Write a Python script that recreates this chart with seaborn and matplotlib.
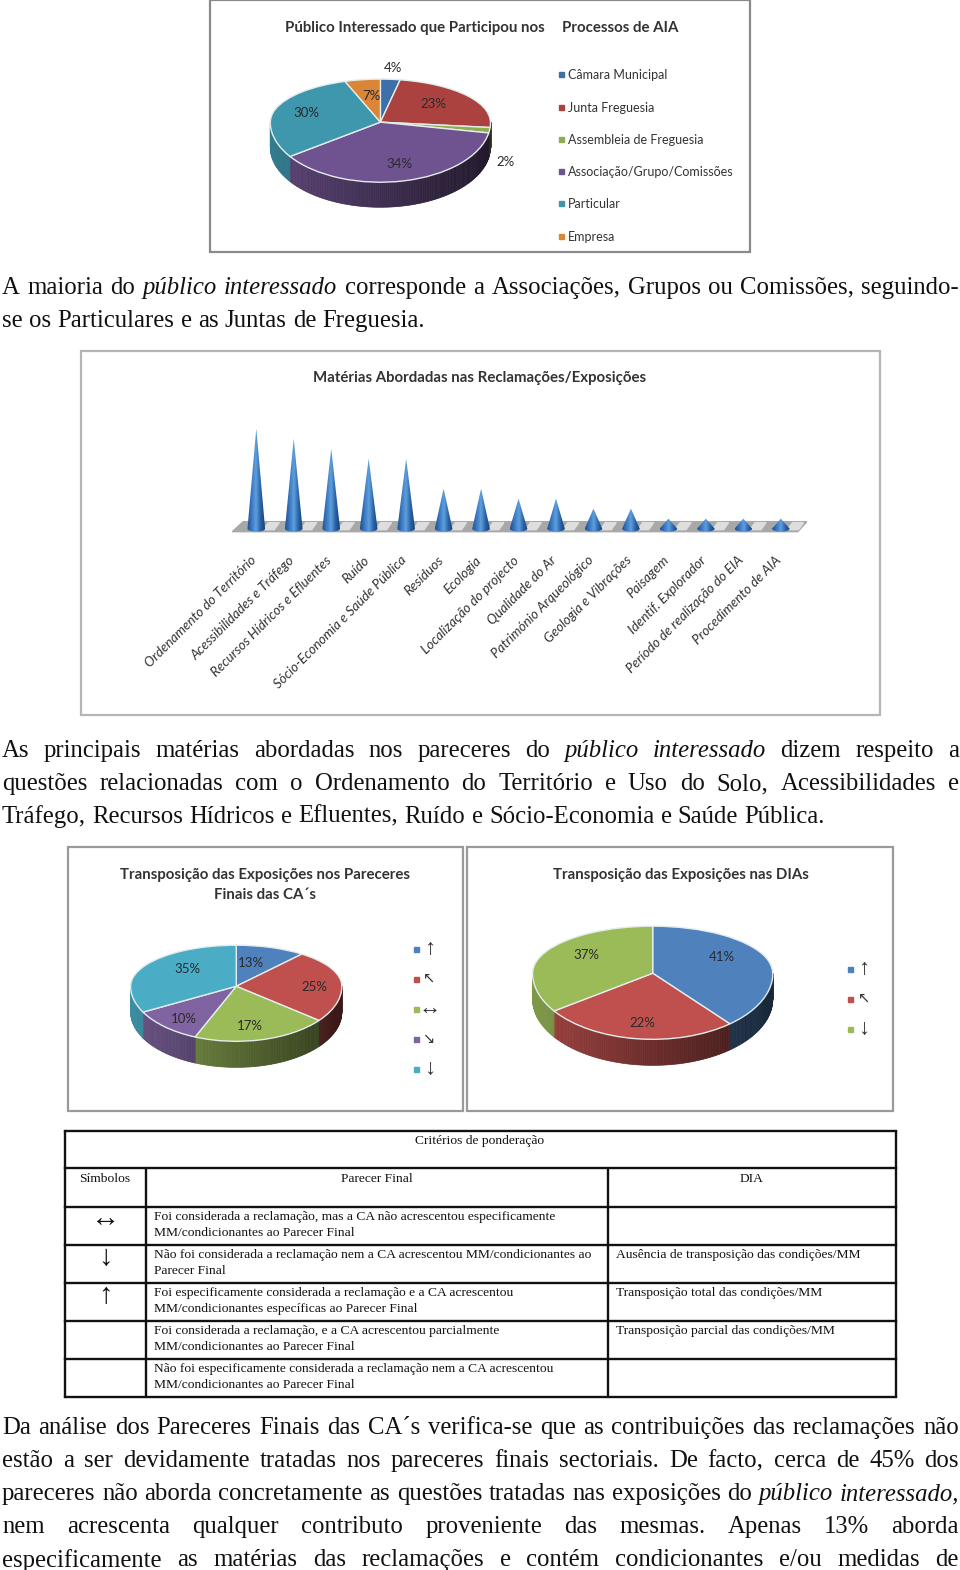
import numpy as np
import pandas as pd
import seaborn as sns
import matplotlib.pyplot as plt
from matplotlib.colors import LinearSegmentedColormap, to_rgb
from matplotlib.patches import Polygon, Rectangle
from matplotlib.transforms import ScaledTranslation

# Dados dos graficos
publico_nomes = ['Câmara Municipal', 'Junta Freguesia', 'Assembleia de Freguesia',
                 'Associação/Grupo/Comissões', 'Particular', 'Empresa']
publico_valores = [4, 23, 2, 34, 30, 7]
publico_cores = ['#3F6FA8', '#AC4240', '#8FAD50', '#6F5290', '#3F97AE', '#DB8536']

materias = ['Ordenamento do Território', 'Acessibilidades e Tráfego', 'Recursos Hídricos e Efluentes',
            'Ruído', 'Sócio-Economia e Saúde Pública', 'Resíduos', 'Ecologia',
            'Localização do projecto', 'Qualidade do Ar', 'Património Arqueológico',
            'Geologia e Vibrações', 'Paisagem', 'Identif. Explorador',
            'Período de realização do EIA', 'Procedimento de AIA']
materias_valores = [10, 9, 8, 7, 7, 4, 4, 3, 3, 2, 2, 1, 1, 1, 1]

pareceres_simbolos = ['↑', '↖', '↔', '↘', '↓']
pareceres_valores = [13, 25, 17, 10, 35]
pareceres_cores = ['#4F81BD', '#C0504D', '#9BBB59', '#8064A2', '#4BACC6']

dias_simbolos = ['↑', '↖', '↓']
dias_valores = [41, 22, 37]
dias_cores = ['#4F81BD', '#C0504D', '#9BBB59']

# Texto da pagina (* marca palavra em italico)
paragrafo_1 = [('A maioria do *público *interessado corresponde a Associações, Grupos ou Comissões, seguindo-', 285, True),
               ('se os Particulares e as Juntas de Freguesia.', 318, False)]
paragrafo_2 = [('As principais matérias abordadas nos pareceres do *público *interessado dizem respeito a', 748, True),
               ('questões relacionadas com o Ordenamento do Território e Uso do Solo, Acessibilidades e', 781, True),
               ('Tráfego, Recursos Hídricos e Efluentes, Ruído e Sócio-Economia e Saúde Pública.', 813, False)]
paragrafo_3 = [('Da análise dos Pareceres Finais das CA´s verifica-se que as contribuições das reclamações não', 1424, True),
               ('estão a ser devidamente tratadas nos pareceres finais sectoriais. De facto, cerca de 45% dos', 1457, True),
               ('pareceres não aborda concretamente as questões tratadas nas exposições do *público *interessado,', 1490, True),
               ('nem acrescenta qualquer contributo proveniente das mesmas. Apenas 13% aborda', 1523, True),
               ('especificamente as matérias das reclamações e contém condicionantes e/ou medidas de', 1556, True)]

tabela_simbolos = ['↔', '↓', '↑', '', '']
tabela_parecer = [('Foi considerada a reclamação, mas a CA não acrescentou especificamente', 'MM/condicionantes ao Parecer Final'),
                  ('Não foi considerada a reclamação nem a CA acrescentou MM/condicionantes ao', 'Parecer Final'),
                  ('Foi especificamente considerada a reclamação e a CA acrescentou', 'MM/condicionantes específicas ao Parecer Final'),
                  ('Foi considerada a reclamação, e a CA acrescentou parcialmente', 'MM/condicionantes ao Parecer Final'),
                  ('Não foi especificamente considerada a reclamação nem a CA acrescentou', 'MM/condicionantes ao Parecer Final')]
tabela_dia = ['', 'Ausência de transposição das condições/MM', 'Transposição total das condições/MM',
              'Transposição parcial das condições/MM', '']

sns.set_theme(style='white')
plt.rcParams['font.family'] = ['Lato', 'DejaVu Sans']

L, A = 959, 1568
COR_TEXTO = '#333333'
SERIFA = ['Liberation Serif', 'DejaVu Sans']
TAM = 17.8
fig = plt.figure(figsize=(9.6, 15.7), dpi=100, facecolor='white')

# Eixo da pagina, em pixeis
pagina = fig.add_axes([0, 0, 1, 1], zorder=0)
pagina.set_xlim(0, L)
pagina.set_ylim(A, 0)
pagina.axis('off')
# Eixo por cima das pizzas, para as percentagens
sobre = fig.add_axes([0, 0, 1, 1], zorder=5)
sobre.set_xlim(0, L)
sobre.set_ylim(A, 0)
sobre.axis('off')
renderer = fig.canvas.get_renderer()


def largura(palavra, **kw):
    t = pagina.text(0, 0, palavra, **kw)
    w = t.get_window_extent(renderer).width
    t.remove()
    return w


def linha_texto(linha, y, justificar, x0=2, x1=958):
    palavras = linha.split(' ')
    estilos = []
    for p in palavras:
        estilos.append(dict(family='Liberation Serif', fontsize=TAM,
                            style='italic' if p.startswith('*') else 'normal'))
    palavras = [p.lstrip('*') for p in palavras]
    larguras = [largura(p, **e) for p, e in zip(palavras, estilos)]
    if justificar:
        espaco = (x1 - x0 - sum(larguras)) / (len(palavras) - 1)
    else:
        espaco = largura('a a', family='Liberation Serif', fontsize=TAM) - 2 * largura('a', family='Liberation Serif', fontsize=TAM)
    x = x0
    for p, e, w in zip(palavras, estilos, larguras):
        pagina.text(x, y, p, va='center_baseline', ha='left', color='#111111', **e)
        x += w + espaco


for linha, y, just in paragrafo_1 + paragrafo_2 + paragrafo_3:
    linha_texto(linha, y, just)


def moldura(x0, y0, x1, y1, cor='#9a9a9a', lw=1.6):
    pagina.add_patch(Rectangle((x0, y0), x1 - x0, y1 - y0, fill=False, edgecolor=cor, linewidth=lw))


moldura(210, 0, 749, 252, '#8a8a8a')
moldura(81, 351, 879, 714, '#b5b5b5')
moldura(68, 846, 463, 1110, '#9a9a9a')
moldura(467, 846, 892, 1110, '#9a9a9a')


def escurecer(cor, f):
    return tuple(c * f for c in to_rgb(cor))


def perspectiva(b):
    # desvio do angulo causado pela vista 3D do Excel
    rad = np.radians(b)
    return b - 8.4 * np.abs(np.sin(2 * rad)) * np.sign(np.sin(rad))


def pizza(valores, cores, cx, apice, topo, fundo, rx, prof):
    rs, ri = apice - topo, fundo - apice
    ax = fig.add_axes([(cx - rx) / L, 1 - (fundo + prof) / A, 2 * rx / L, (rs + ri + prof) / A], zorder=2)
    ax.patch.set_alpha(0)
    cunhas, _ = ax.pie(valores, colors=cores, startangle=90, counterclock=False,
                       wedgeprops=dict(edgecolor='#e4ecec', linewidth=1.0))
    acum = perspectiva(np.cumsum([0] + list(valores)) / sum(valores) * 360)
    for i, c in enumerate(cunhas):
        c.set_theta1(90 - acum[i + 1])
        c.set_theta2(90 - acum[i])
        c.set_zorder(3)
        c.set_clip_on(False)
    # parede lateral do disco
    for i, cor in enumerate(cores):
        angulos = np.arange(acum[i], acum[i + 1], 1.0)
        angulos = np.append(angulos, acum[i + 1])
        for a0, a1 in zip(angulos[:-1], angulos[1:]):
            if np.cos(np.radians(a0)) > 0.02 and np.cos(np.radians(a1)) > 0.02:
                continue
            xa, xb = np.sin(np.radians(a0)), np.sin(np.radians(a1))
            ya, yb = np.cos(np.radians(a0)), np.cos(np.radians(a1))
            ya, yb = min(ya, 0), min(yb, 0)
            d = prof / ri
            f = 0.82 - 0.52 * (xa + 1) / 2
            ax.fill([xa, xb, xb, xa], [ya, yb, yb - d, ya - d], color=escurecer(cor, f),
                    linewidth=0.5, zorder=1, clip_on=False)
    ax.set_aspect('auto')
    # o apice fica acima do centro da elipse
    ax.set_yscale('function', functions=(lambda y: np.where(y >= 0, y * rs, y * ri),
                                         lambda v: np.where(v >= 0, v / rs, v / ri)))
    ax.set_xlim(-1, 1)
    ax.set_ylim(-1 - prof / ri, 1)
    ax.set_xticks([])
    ax.set_yticks([])
    ax.minorticks_off()
    return ax


def rotulos(valores, posicoes):
    for v, (x, y) in zip(valores, posicoes):
        sobre.text(x, y, f'{v}%', ha='center', va='center', fontsize=9.5, color='#2a2a2a')


def simbolo(x, y, s):
    # as setas diagonais so existem na DejaVu, que desenha maior
    tam = 10.5 if s in '↖↘' else 16
    pagina.text(x, y, s, fontsize=tam, color=COR_TEXTO, ha='center', va='center', family=SERIFA)


TITULO = dict(fontsize=10.8, fontweight='bold', color=COR_TEXTO, va='center')

# Grafico 1
pizza(publico_valores, publico_cores, 380, 122, 79, 182, 110, 25)
pagina.text(285, 28, 'Público Interessado que Participou nos', **TITULO)
pagina.text(561, 28, 'Processos de AIA', **TITULO)
legenda_y = [74, 107, 139, 171, 203, 236]
for nome, cor, y in zip(publico_nomes, publico_cores, legenda_y):
    pagina.add_patch(Rectangle((558, y - 2.5), 5, 5, color=cor))
    pagina.text(567, y + 1, nome, fontsize=9, color=COR_TEXTO, va='center')

# Grafico 2: cones
ax = fig.add_axes([237.3 / L, 1 - 531 / A, 561.4 / L, 113 / A], zorder=2)
df_materias = pd.DataFrame({'materia': materias, 'n': materias_valores})
sns.barplot(data=df_materias, x='materia', y='n', ax=ax, width=0.47, color='#2f6db5')
degrade = LinearSegmentedColormap.from_list('cone', ['#1d4f90', '#3a78c2', '#5f9fdc', '#2a64a8', '#174379'])
for barra in list(ax.patches):
    x0, w, h = barra.get_x(), barra.get_width(), barra.get_height()
    barra.set_visible(False)
    xc = x0 + w / 2
    t = np.linspace(np.pi, 2 * np.pi, 30)
    base = np.column_stack([xc + w / 2 * np.cos(t), 0.3 * np.sin(t)])
    contorno = np.vstack([[[xc, h]], base])
    img = ax.imshow(np.linspace(0, 1, 64).reshape(1, -1), cmap=degrade, aspect='auto',
                    extent=[x0, x0 + w, -0.3, h], zorder=3)
    img.set_clip_path(Polygon(contorno, transform=ax.transData))
ax.set_xlim(-0.5, 14.5)
ax.set_ylim(-0.3, 11)
ax.patch.set_alpha(0)
sns.despine(ax=ax, left=True, bottom=True)
ax.set_xlabel('')
ax.set_ylabel('')
ax.set_yticks([])
ax.set_xticks(range(len(materias)))
ax.set_xticklabels(materias, rotation=45, ha='right', rotation_mode='anchor', style='italic',
                   fontsize=9.7, color=COR_TEXTO)
ax.tick_params(axis='x', length=0, pad=16)
desvio = ScaledTranslation(-6 / 100, 0, fig.dpi_scale_trans)
for rotulo in ax.get_xticklabels():
    rotulo.set_transform(rotulo.get_transform() + desvio)

# chao do grafico de cones
pagina.add_patch(Polygon([(243, 521), (806, 521), (797, 531), (232, 531)], color='#a8a8a8', zorder=1))
for xr in np.arange(262.0, 790, 37.4):
    pagina.add_patch(Polygon([(xr + 6, 522), (xr + 17, 522), (xr + 12, 529), (xr + 1, 529)], color='#dedede', zorder=1))
pagina.text(479, 378, 'Matérias Abordadas nas Reclamações/Exposições', ha='center', **TITULO)

# Grafico 3
pizza(pareceres_valores, pareceres_cores, 236, 985, 944, 1040, 105.5, 26)
pagina.text(265, 874, 'Transposição das Exposições nos Pareceres', ha='center', **TITULO)
pagina.text(265, 894, 'Finais das CA´s', ha='center', **TITULO)
for s, cor, y in zip(pareceres_simbolos, pareceres_cores, [948, 978, 1008, 1038, 1068]):
    pagina.add_patch(Rectangle((414, y - 2.5), 5, 5, color=cor))
    simbolo(429, y, s)

# Grafico 4
pizza(dias_valores, dias_cores, 652, 972, 925, 1038, 120, 26)
pagina.text(680, 874, 'Transposição das Exposições nas DIAs', ha='center', **TITULO)
for s, cor, y in zip(dias_simbolos, dias_cores, [968, 998, 1028]):
    pagina.add_patch(Rectangle((847, y - 2.5), 5, 5, color=cor))
    simbolo(863, y, s)

rotulos(publico_valores, [(393, 68), (433, 104), (505, 162), (399, 164), (306, 113), (371, 96)])
rotulos(pareceres_valores, [(251, 962), (314, 986), (250, 1025), (184, 1018), (187, 968)])
rotulos(dias_valores, [(721, 956), (642, 1022), (586, 954)])

# Tabela
linhas_y = [1130, 1167, 1205, 1243, 1281, 1319, 1357, 1395]
col_x = [65, 146, 607, 895]
for y in linhas_y:
    pagina.plot([col_x[0], col_x[-1]], [y, y], color='#111111', lw=1.7, solid_capstyle='projecting')
pagina.plot([col_x[0], col_x[0]], [linhas_y[0], linhas_y[-1]], color='#111111', lw=1.7)
pagina.plot([col_x[-1], col_x[-1]], [linhas_y[0], linhas_y[-1]], color='#111111', lw=1.7)
for x in col_x[1:-1]:
    pagina.plot([x, x], [linhas_y[1], linhas_y[-1]], color='#111111', lw=1.7)

fonte_tab = dict(family='Liberation Serif', fontsize=9.7, color='#111111', va='center')
pagina.text(479, 1140, 'Critérios de ponderação', ha='center', **fonte_tab)
pagina.text(105, 1177, 'Símbolos', ha='center', **fonte_tab)
pagina.text(376, 1177, 'Parecer Final', ha='center', **fonte_tab)
pagina.text(751, 1177, 'DIA', ha='center', **fonte_tab)
for i, topo in enumerate(linhas_y[2:-1]):
    pagina.text(105, topo + 13, tabela_simbolos[i], ha='center', va='center', fontsize=21,
                color='#111111', family=SERIFA)
    pagina.text(154, topo + 10, tabela_parecer[i][0], ha='left', **fonte_tab)
    pagina.text(154, topo + 26, tabela_parecer[i][1], ha='left', **fonte_tab)
    pagina.text(615, topo + 10, tabela_dia[i], ha='left', **fonte_tab)

fig.savefig('out.png', dpi=100, facecolor='white')
